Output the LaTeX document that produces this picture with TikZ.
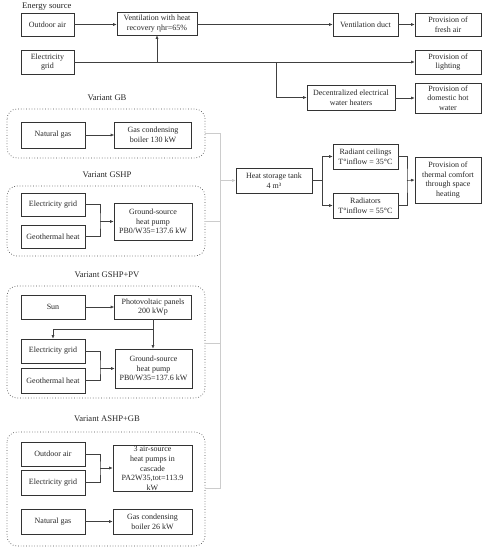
\documentclass[tikz,border=0pt]{standalone}
\usepackage{fontspec}
\setmainfont{Liberation Serif}
\usetikzlibrary{arrows.meta}
\tikzset{
  box/.style={draw=black!80, line width=0.6pt, align=center, inner sep=0pt,
    font=\fontsize{8}{9.7}\selectfont, text=black!85},
  lbl/.style={font=\fontsize{8.6}{10}\selectfont, inner sep=0pt, text=black!85},
  grp/.style={draw=black!70, dotted, line width=0.7pt, rounded corners=10pt},
  conn/.style={line width=0.6pt, draw=black!75},
  arr/.style={conn, -{Latex[length=3.5pt,width=3pt]}},
  gconn/.style={line width=0.5pt, draw=black!20},
  garr/.style={gconn, -{Latex[length=3.5pt,width=3pt]}, draw=black!20},
}
\begin{document}
\begin{tikzpicture}[x=1pt,y=-1pt]
\useasboundingbox (0,0) rectangle (488,550);

% ---- energy source part ----
\node[lbl, anchor=west] (es) at (22,7) {Energy source};
\node[box, minimum width=53, minimum height=23] (oair) at (47.5,24.5) {Outdoor air};
\node[box, minimum width=53, minimum height=24] (egrid) at (47.5,62) {Electricity\\grid};
\node[box, minimum width=80, minimum height=23] (vent) at (157,23.5) {Ventilation with heat\\recovery ηhr=65\%};
\node[box, minimum width=65, minimum height=23] (duct) at (365.5,24.5) {Ventilation duct};
\node[box, minimum width=66, minimum height=23] (fresh) at (448,24.5) {Provision of\\fresh air};
\node[box, minimum width=66, minimum height=24] (light) at (448,62) {Provision of\\lighting};
\node[box, minimum width=88, minimum height=25] (decent) at (351,97.5) {Decentralized electrical\\water heaters};
\node[box, minimum width=66, minimum height=30] (dhw) at (448,98) {Provision of\\domestic hot\\water};
\coordinate (j1) at (157,62);
\coordinate (j2) at (276,62);

\draw[arr] (oair.east) -- (oair.east -| vent.west);
\draw[arr] (vent.east |- duct.west) -- (duct.west);
\draw[arr] (duct.east) -- (fresh.west);
\draw[arr] (egrid.east) -- (light.west);
\draw[arr] (j1) -- (vent.south);
\draw[arr] (j2) |- (decent.west);
\draw[arr] (decent.east |- dhw.west) -- (dhw.west);

% ---- Variant GB ----
\node[lbl] (lgb) at (107,98) {Variant GB};
\draw[grp] (7,109) rectangle (205,158);
\node[box, minimum width=64, minimum height=26] (ng1) at (53,135) {Natural gas};
\node[box, minimum width=77, minimum height=26] (gb1) at (153,135) {Gas condensing\\boiler 130 kW};
\draw[arr] (ng1.east) -- (gb1.west);

% ---- Variant GSHP ----
\node[lbl] (lgs) at (107,175) {Variant GSHP};
\draw[grp] (7,186) rectangle (205,256);
\node[box, minimum width=64, minimum height=23] (eg2) at (53,204.5) {Electricity grid};
\node[box, minimum width=64, minimum height=23] (geo2) at (53,236.5) {Geothermal heat};
\node[box, minimum width=78, minimum height=37] (gs2) at (153,221.5) {Ground-source\\heat pump\\PB0/W35=137.6 kW};
\coordinate (m2) at (100,221.5);
\draw[conn] (eg2.east) -| (m2) |- (geo2.east);
\draw[arr] (m2) -- (gs2.west);

% ---- Variant GSHP+PV ----
\node[lbl] (lpv) at (107,275) {Variant GSHP+PV};
\draw[grp] (7,286) rectangle (205,398);
\node[box, minimum width=64, minimum height=24] (sun) at (53,307) {Sun};
\node[box, minimum width=77, minimum height=24] (pv) at (153,307) {Photovoltaic panels\\200 kWp};
\node[box, minimum width=64, minimum height=24] (eg3) at (53,351) {Electricity grid};
\node[box, minimum width=64, minimum height=25] (geo3) at (53,380.5) {Geothermal heat};
\node[box, minimum width=77, minimum height=39] (gs3) at (153.5,368.5) {Ground-source\\heat pump\\PB0/W35=137.6 kW};
\draw[arr] (sun.east) -- (pv.west);
\coordinate (p1) at (153,329);
\draw[conn] (pv.south -| p1) -- (p1);
\draw[arr] (p1) -| (eg3.north);
\draw[arr] (p1) -- (p1 |- gs3.north);
\coordinate (m3) at (100,368.5);
\draw[conn] (eg3.east) -| (m3) |- (geo3.east);
\draw[arr] (m3) -- (gs3.west);

% ---- Variant ASHP+GB ----
\node[lbl] (las) at (107,419) {Variant ASHP+GB};
\draw[grp] (7,432) rectangle (205,546);
\node[box, minimum width=64, minimum height=24] (oa4) at (53,454) {Outdoor air};
\node[box, minimum width=64, minimum height=25] (eg4) at (53,482.5) {Electricity grid};
\node[draw=black!80, line width=0.6pt, minimum width=79, minimum height=46, inner sep=0pt] (ashp) at (152.5,468) {};
\node[align=center, inner sep=0pt, font=\fontsize{8}{9.75}\selectfont, text=black!85] (ashpt) at (152.5,468.5) {3 air-source\\heat pumps in\\cascade\\PA2W35,tot=113.9\\kW};
\node[box, minimum width=64, minimum height=25] (ng4) at (53,521.5) {Natural gas};
\node[box, minimum width=79, minimum height=25] (gb4) at (152.5,521.5) {Gas condensing\\boiler 26 kW};
\coordinate (m4) at (100,468);
\draw[conn] (oa4.east) -| (m4) |- (eg4.east);
\draw[arr] (m4) -- (ashp.west);
\draw[arr] (ng4.east) -- (gb4.west);

% ---- collector to heat storage ----
\node[box, minimum width=76, minimum height=25] (tank) at (274,180.5) {Heat storage tank\\4 m³};
\coordinate (c1) at (205,133);
\coordinate (c2) at (205,221);
\coordinate (c3) at (205,343);
\coordinate (c4) at (205,488);
\coordinate (v) at (220,180.5);
\draw[gconn] (c1) -- (220,133) -- (220,488) -- (c4);
\draw[gconn] (c2) -- (220,221);
\draw[gconn] (c3) -- (220,343);
\draw[garr] (v) -- (tank.west);

% ---- heating distribution ----
\node[box, minimum width=65, minimum height=25] (rc) at (365.5,156.5) {Radiant ceilings\\T°inflow = 35°C};
\node[box, minimum width=65, minimum height=25] (rad) at (365.5,205.5) {Radiators\\T°inflow = 55°C};
\node[box, minimum width=66, minimum height=46] (comf) at (448,180) {Provision of\\thermal comfort\\through space\\heating};
\coordinate (s1) at (322,180.5);
\coordinate (s2) at (407,180.5);
\draw[conn] (tank.east) -- (s1);
\draw[arr] (s1) |- (rc.west);
\draw[arr] (s1) |- (rad.west);
\draw[conn] (rc.east) -| (s2) |- (rad.east);
\draw[arr] (s2) -- (comf.west);
\end{tikzpicture}
\end{document}
